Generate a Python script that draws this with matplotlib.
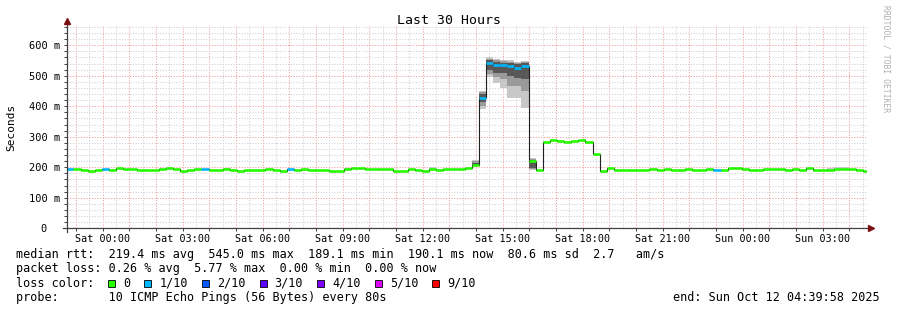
# SmokePing style latency graph (Last 30 Hours)
import matplotlib.pyplot as plt
import matplotlib.patches as mpatches
import numpy as np

# ---- data -------------------------------------------------------------
# median rtt per 16 minute step (ms), first step starts 1.6 min before graph start
median_ms = [
    193, 194, 191, 188, 191, 194, 191, 197, 193, 193,
    191, 191, 191, 195, 197, 193, 188, 191, 193, 194,
    191, 191, 195, 191, 188, 191, 191, 191, 193, 190,
    189, 193, 191, 195, 191, 191, 191, 189, 188, 193,
    198, 198, 194, 194, 194, 193, 189, 189, 195, 191,
    189, 195, 191, 193, 193, 193, 197, 208, 428, 542,
    534, 534, 532, 526, 532, 222, 190, 282, 288, 286,
    284, 285, 288, 282, 244, 188, 196, 191, 191, 191,
    191, 191, 193, 191, 193, 191, 191, 193, 191, 191,
    195, 191, 191, 197, 197, 193, 191, 191, 193, 193,
    193, 191, 193, 190, 197, 191, 191, 191, 195, 195,
    193, 190, 188,
]
# steps with 1/10 packets lost (all others 0)
loss_1_steps = [0, 5, 19, 31, 58, 59, 60, 61, 62, 63, 64, 91]

# smoke (spread of the 10 pings) where it is visible
smoke_steps = [13, 22, 39, 51, 56, 57, 58, 59, 60, 61, 62, 63, 64, 65, 107, 108, 109]
smoke_outer_lo = [190, 190, 190, 191, 193, 204, 392, 497, 475, 459, 426, 426, 393, 192, 189, 192, 192]
smoke_outer_hi = [199, 199, 199, 201, 202, 223, 450, 563, 555, 552, 550, 546, 549, 230, 197, 201, 201]
smoke_mid_lo = [195, 195, 193, 195, 197, 205, 400, 506, 495, 490, 468, 465, 450, 194, 191, 195, 195]
smoke_mid_hi = [195, 195, 193, 195, 197, 220, 446, 556, 551, 548, 546, 542, 545, 226, 191, 195, 195]
smoke_inner_lo = [195, 195, 193, 195, 197, 206, 413, 520, 510, 508, 498, 494, 488, 196, 191, 195, 195]
smoke_inner_hi = [195, 195, 193, 195, 197, 214, 440, 550, 546, 543, 541, 537, 541, 223, 191, 195, 195]

xtick_labels = ["Sat 00:00", "Sat 03:00", "Sat 06:00", "Sat 09:00", "Sat 12:00",
                "Sat 15:00", "Sat 18:00", "Sat 21:00", "Sun 00:00", "Sun 03:00"]
ytick_vals = [0, 100, 200, 300, 400, 500, 600]
ytick_labels = ["0  ", "100 m", "200 m", "300 m", "400 m", "500 m", "600 m"]

loss_labels = ["0", "1/10", "2/10", "3/10", "4/10", "5/10", "9/10"]
loss_colors = ["#26ff00", "#00b8ff", "#0059ff", "#5e00ff", "#7e00ff", "#dd00ff", "#ff0000"]

legend_rtt = "median rtt:  219.4 ms avg  545.0 ms max  189.1 ms min  190.1 ms now  80.6 ms sd  2.7   am/s"
legend_loss = "packet loss: 0.26 % avg  5.77 % max  0.00 % min  0.00 % now"
legend_probe = "probe:       10 ICMP Echo Pings (56 Bytes) every 80s"
legend_end = "end: Sun Oct 12 04:39:58 2025"

# ---- layout -------------------------------------------------------------
W, H = 897, 310
MONO = "DejaVu Sans Mono"
plt.rcParams["font.family"] = MONO

span_h = 30.0
step_h = 16 / 60
first_label_h = (80 * 60 + 2) / 3600   # graph starts Fri 22:39:58
ymax = 663

fig = plt.figure(figsize=(W / 100, H / 100), dpi=100)
fig.patch.set_facecolor("white")
ax = fig.add_axes([67 / W, 1 - 228.3 / H, 800 / W, (228.3 - 26) / H])
ax.set_xlim(0, span_h)
ax.set_ylim(0, ymax)
for s in ax.spines.values():
    s.set_visible(False)

# grid
major_c, minor_c = "#f2a0a0", "#d2d2d2"
dots = (0, (1.2, 1.6))
hours = np.arange(first_label_h - 1, span_h, 1.0)
for h in hours:
    ax.axvline(h + 0.5, color=minor_c, lw=0.7, ls=dots, zorder=0)
    ax.axvline(h, color=major_c, lw=0.7, ls=dots, zorder=0)
for v in range(20, ymax, 20):
    ax.axhline(v, color=major_c if v % 100 == 0 else minor_c, lw=0.7, ls=dots, zorder=0)

# data
med = np.array(median_ms, dtype=float)
n = len(med)
left = -0.1 * step_h + np.arange(n) * step_h
right = left + step_h
loss = np.zeros(n, dtype=int)
loss[loss_1_steps] = 1

idx = np.array(smoke_steps)
for lo, hi, col in [(smoke_outer_lo, smoke_outer_hi, "#c8c8c8"),
                    (smoke_mid_lo, smoke_mid_hi, "#9a9a9a"),
                    (smoke_inner_lo, smoke_inner_hi, "#585858")]:
    lo = np.array(lo, float)
    hi = np.array(hi, float)
    ax.bar(left[idx], hi - lo, bottom=lo, width=step_h, align="edge",
           color=col, linewidth=0, zorder=2)

ax.step(np.r_[left, right[-1]], np.r_[med, med[-1]], where="post",
        color="#202020", lw=0.8, zorder=3)
ax.hlines(med, left, right, colors=[loss_colors[l] for l in loss],
          lw=1.9, capstyle="butt", zorder=4)

# axes lines + arrows
axis_c = "#404040"
ax.plot([-0.005, 1.004], [0, 0], transform=ax.transAxes, color=axis_c, lw=0.9, clip_on=False, zorder=5)
ax.plot([0, 0], [-0.018, 1.02], transform=ax.transAxes, color=axis_c, lw=0.9, clip_on=False, zorder=5)
ax.plot([1.005], [0], marker=">", ms=4, color="#7a1010", transform=ax.transAxes, clip_on=False, zorder=6)
ax.plot([0], [1.025], marker="^", ms=4, color="#7a1010", transform=ax.transAxes, clip_on=False, zorder=6)

# ticks
xt = first_label_h + 3 * np.arange(len(xtick_labels))
ax.set_xticks(xt)
ax.set_xticklabels(xtick_labels)
ax.set_xticks(hours[hours > 0], minor=True)
ax.set_yticks(ytick_vals)
ax.set_yticklabels(ytick_labels)
ax.set_yticks(range(20, ymax, 20), minor=True)
ax.tick_params(which="both", direction="out", length=2, width=0.7, color=axis_c)
ax.tick_params(axis="x", labelsize=7.3, pad=2)
ax.tick_params(axis="y", labelsize=7.5, pad=3)

# texts
fig.text(0.5, 1 - 20 / H, "Last 30 Hours", ha="center", va="center", fontsize=9.5)
fig.text(11 / W, 1 - 127 / H, "Seconds", rotation=90, ha="center", va="center", fontsize=8)
fig.text(886 / W, 1 - 59 / H, "RRDTOOL / TOBI OETIKER", rotation=270, ha="center", va="center",
         fontsize=5.8, color="#b0b0b0")

fs = 8.5
fig.text(16 / W, 1 - 258.3 / H, legend_rtt, va="baseline", fontsize=fs)
fig.text(16 / W, 1 - 272.4 / H, legend_loss, va="baseline", fontsize=fs)
fig.text(16 / W, 1 - 286.6 / H, "loss color:", va="baseline", fontsize=fs)
fig.text(16 / W, 1 - 300.7 / H, legend_probe, va="baseline", fontsize=fs)
fig.text(880 / W, 1 - 300.7 / H, legend_end, ha="right", va="baseline", fontsize=fs)

cw = 7.1
x = 108
for lab, col in zip(loss_labels, loss_colors):
    fig.patches.append(mpatches.Rectangle((x / W, 1 - 286.5 / H), 7 / W, 7 / H,
                                          transform=fig.transFigure, facecolor=col,
                                          edgecolor="black", lw=0.6))
    fig.text((x + 15) / W, 1 - 286.6 / H, lab, va="baseline", fontsize=fs)
    x += 15 + (len(lab) + 2) * cw

fig.savefig("out.png", dpi=100, facecolor="white")
